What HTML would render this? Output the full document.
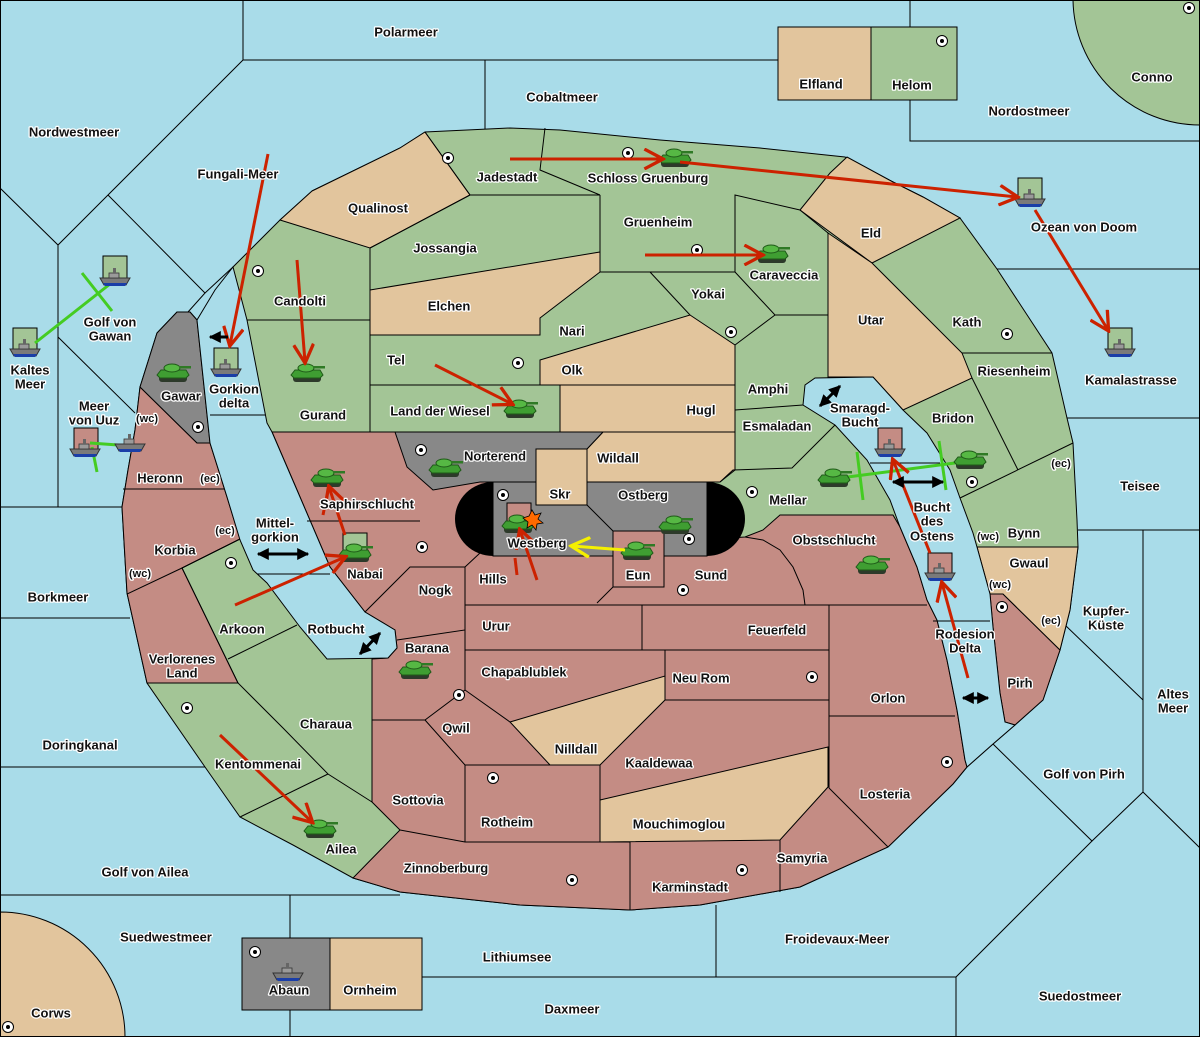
<!DOCTYPE html>
<html><head><meta charset="utf-8"><style>
html,body{margin:0;padding:0;background:#a9dce9;}
svg{display:block;}
text{font-family:"Liberation Sans",sans-serif;font-weight:bold;font-size:13px;fill:#111;stroke:#fff;stroke-width:2.5px;paint-order:stroke;stroke-linejoin:round;text-anchor:middle;dominant-baseline:central;}
text.s{font-size:11px;}
</style></head><body>
<svg width="1200" height="1037" viewBox="0 0 1200 1037" xmlns="http://www.w3.org/2000/svg">
<defs>
<g id="tank">
<rect x="-14" y="2" width="28" height="7" rx="3" fill="#2d3a2a"/>
<polygon points="-16,2 -12,-3 13,-3 16,2 13,5 -13,5" fill="#3f9e32" stroke="#1f5a18" stroke-width="1"/>
<ellipse cx="-1" cy="-5" rx="8" ry="4" fill="#56b844" stroke="#1f5a18" stroke-width="1"/>
<rect x="6" y="-7" width="12" height="2.5" fill="#2f7a25"/>
</g>
<g id="ship">
<polygon points="-15,1 15,1 11,8 -11,8" fill="#7a7a7a" stroke="#333" stroke-width="1"/>
<polygon points="-12,6 12,6 10,9 -10,9" fill="#1a3ea8"/>
<rect x="-6" y="-4" width="10" height="5" fill="#9a9a9a" stroke="#333" stroke-width="0.8"/>
<rect x="-2" y="-9" width="3" height="5" fill="#666"/>
</g>
<g id="sc"><circle r="5.5" fill="#fff" stroke="#000" stroke-width="1"/><circle r="2" fill="#000"/></g>
<marker id="rh" viewBox="0 0 20 20" refX="17" refY="10" markerWidth="22" markerHeight="22" markerUnits="userSpaceOnUse" orient="auto"><path d="M1,1 L18,10 L1,19" fill="none" stroke="#cc2200" stroke-width="3"/></marker>
<marker id="yh" viewBox="0 0 20 20" refX="17" refY="10" markerWidth="22" markerHeight="22" markerUnits="userSpaceOnUse" orient="auto"><path d="M1,1 L18,10 L1,19" fill="none" stroke="#f5f000" stroke-width="3"/></marker>
<marker id="bh" viewBox="0 0 10 10" refX="9" refY="5" markerWidth="12" markerHeight="12" markerUnits="userSpaceOnUse" orient="auto"><path d="M0,0 L10,5 L0,10 Z" fill="#000"/></marker>
<marker id="bt" viewBox="0 0 10 10" refX="1" refY="5" markerWidth="12" markerHeight="12" markerUnits="userSpaceOnUse" orient="auto"><path d="M10,0 L0,5 L10,10 Z" fill="#000"/></marker>
</defs>

<rect width="1200" height="1037" fill="#a9dce9"/>

<path d="M1073,0 A127,127 0 0 0 1200,125 L1200,0 Z" fill="#a3c596" stroke="#000"/>
<path d="M0,912 A125,125 0 0 1 125,1037 L0,1037 Z" fill="#e2c59d" stroke="#000"/>
<rect x="778" y="27" width="93" height="73" fill="#e2c59d" stroke="#000"/>
<rect x="871" y="27" width="86" height="73" fill="#a3c596" stroke="#000"/>
<rect x="242" y="938" width="88" height="72" fill="#888" stroke="#000"/>
<rect x="330" y="938" width="92" height="72" fill="#e2c59d" stroke="#000"/>

<g stroke="#000" stroke-width="1" fill="none">
<polyline points="243,0 243,60 778,60"/>
<polyline points="485,60 485,130"/>
<polyline points="910,0 910,27"/><polyline points="910,100 910,141 1200,141"/>
<polyline points="243,60 108,195 58,245 0,188"/>
<polyline points="58,245 58,507"/>
<polyline points="108,195 205,293 188,312"/><polyline points="205,293 233,267"/>
<polyline points="58,337 135,413"/>
<polyline points="0,507 122,507"/>
<polyline points="0,618 130,618"/>
<polyline points="0,767 205,767"/>
<polyline points="0,895 400,895"/>
<polyline points="290,895 290,938"/><polyline points="290,1010 290,1037"/>
<polyline points="997,269 1200,269"/>
<polyline points="1067,418 1200,418"/>
<polyline points="1078,530 1200,530"/>
<polyline points="1143,530 1143,792 1200,848"/>
<polyline points="1143,792 1092,841 993,744"/>
<polyline points="1065,625 1143,700"/>
<polyline points="1092,841 956,977 956,1037"/>
<polyline points="422,977 956,977"/>
<polyline points="716,905 716,977"/>
</g>

<polygon fill="#a3c596" stroke="#000" points="312,191 400,148 425,132 510,128 560,130 660,140 760,148 845,157 893,182 923,197 960,218 997,269 1052,353 1067,418 1073,443 1077,520 1078,547 1070,610 1060,650 1043,700 1015,725 993,744 967,767 953,784 888,847 800,887 700,905 630,910 520,905 400,892 353,878 293,845 240,817 205,767 147,683 127,593 122,507 128,470 135,430 140,387 157,333 177,312 190,312 197,320 233,267 280,220"/>

<g fill="#c48c84" stroke="#000">
<polygon points="272,432 430,432 430,482 700,482 700,540 745,537 763,530 780,515 893,515 900,527 917,567 927,600 937,620 947,660 957,710 965,760 967,767 953,784 888,847 800,887 700,905 630,910 520,905 400,892 353,878 400,830 372,802 372,659 388,658 397,648 395,630 365,612 330,567 297,490"/>
<polygon points="140,387 197,443 210,443 227,497 240,539 182,568 238,683 147,683 127,593 122,507 128,470 135,430"/>
<polygon points="990,594 1003,594 1060,650 1043,700 1015,725 1005,722 1000,693 993,627"/>
</g>

<g fill="#e2c59d" stroke="#000">
<polygon points="312,191 400,148 425,132 470,195 370,248 280,220"/>
<polygon points="370,290 600,252 600,272 540,318 540,335 370,335"/>
<polygon points="540,360 690,315 735,345 735,385 540,385"/>
<polygon points="560,385 735,385 735,432 560,432"/>
<polygon points="603,432 735,432 735,470 720,482 587,482 587,449"/>
<polygon points="800,210 830,173 847,157 893,182 923,197 960,218 872,263"/>
<polygon points="828,233 872,263 917,308 962,353 972,378 903,410 873,377 828,377"/>
<polygon points="977,547 1078,547 1070,610 1060,650 1003,594 990,594"/>
<polygon points="510,722 665,676 665,700 600,765 550,765"/>
<polygon points="600,800 828,747 828,787 780,840 600,842"/>
</g>

<polygon fill="#888" stroke="#000" points="140,387 157,333 177,312 190,312 197,320 210,443 197,443"/>
<polygon fill="#888" stroke="#000" points="395,432 603,432 587,449 536,449 536,482 480,482 433,490 407,467"/>
<path d="M493,482 L707,482 A38,37 0 0 1 707,556 L493,556 A38,37 0 0 1 493,482 Z" fill="#000"/>
<rect x="493" y="482" width="214" height="74" fill="#888" stroke="#000"/>
<rect x="536" y="449" width="51" height="56" fill="#e2c59d" stroke="#000"/>
<rect x="507" y="503" width="24" height="18" fill="#c48c84" stroke="#000"/>
<rect x="613" y="531" width="51" height="56" fill="#c48c84" stroke="#000"/>
<line x1="587" y1="505" x2="613" y2="531" stroke="#000"/>

<polygon fill="#a9dce9" stroke="#000" points="197,320 215,290 233,267 247,320 267,423 272,432 297,490 330,567 365,612 395,630 397,648 388,658 327,659 300,627 267,583 253,570 240,540 227,497 210,443"/>
<polygon fill="#a9dce9" stroke="#000" points="803,405 805,385 815,378 873,377 903,410 927,433 950,470 960,498 973,533 977,547 990,594 993,627 1000,693 1005,722 1015,725 993,744 967,767 965,760 957,710 947,660 937,620 927,600 917,567 900,527 890,500 867,460 835,425"/>
<g stroke="#000" fill="none">
<polyline points="210,415 265,415"/><polyline points="257,574 330,574"/><polyline points="870,463 940,463"/><polyline points="933,621 990,621"/>
</g>

<g stroke="#000" stroke-width="1" fill="none">
<polyline points="425,132 470,195 600,195"/>
<polyline points="545,128 540,170 600,195"/>
<polyline points="370,248 470,195"/>
<polyline points="370,248 370,432"/>
<polyline points="247,320 370,320"/>
<polyline points="600,195 600,272 735,272 735,195 800,210"/>
<polyline points="800,210 828,233 828,377"/>
<polyline points="735,272 775,315 828,315"/>
<polyline points="650,272 690,315"/>
<polyline points="735,345 775,315"/>
<polyline points="735,345 735,470"/>
<polyline points="735,410 803,405"/>
<polyline points="720,482 733,470 792,468 835,425"/>
<polyline points="370,385 560,385"/>
<polyline points="962,353 1052,353"/>
<polyline points="972,378 1018,470"/>
<polyline points="960,498 1073,443"/>
<polyline points="123,489 224,489"/>
<polyline points="127,594 182,568 240,539"/>
<polyline points="182,568 238,683 283,728 328,774 372,802"/>
<polyline points="228,659 297,625"/>
<polyline points="240,817 328,774"/>
<polyline points="372,659 372,802"/>
<polyline points="307,521 420,521"/>
<polyline points="365,612 410,567 465,567 480,553"/>
<polyline points="465,567 465,605"/>
<polyline points="397,640 465,630 465,605 829,605"/>
<polyline points="597,603 613,587"/>
<polyline points="642,605 642,650"/>
<polyline points="465,630 465,650 829,650"/>
<polyline points="465,650 465,690 425,720 372,720"/>
<polyline points="465,690 510,722"/>
<polyline points="425,720 465,765 550,765"/>
<polyline points="465,765 465,842"/>
<polyline points="600,765 600,842"/>
<polyline points="400,830 465,842 630,842 630,910"/>
<polyline points="665,650 665,700 829,700"/>
<polyline points="829,605 829,788"/>
<polyline points="805,605 927,605"/>
<polyline points="745,537 763,540 780,550 793,567 803,590 805,605"/>
<polyline points="829,716 955,716"/>
<polyline points="780,840 780,892"/>
<polyline points="829,788 888,847"/>
</g>

<g>
<use href="#sc" x="448" y="158"/><use href="#sc" x="628" y="153"/><use href="#sc" x="942" y="41"/><use href="#sc" x="1189" y="8"/>
<use href="#sc" x="258" y="271"/><use href="#sc" x="697" y="250"/><use href="#sc" x="518" y="363"/><use href="#sc" x="731" y="332"/>
<use href="#sc" x="1007" y="334"/><use href="#sc" x="198" y="427"/><use href="#sc" x="421" y="450"/><use href="#sc" x="503" y="495"/>
<use href="#sc" x="689" y="539"/><use href="#sc" x="752" y="492"/><use href="#sc" x="972" y="482"/><use href="#sc" x="422" y="547"/>
<use href="#sc" x="231" y="563"/><use href="#sc" x="683" y="590"/><use href="#sc" x="1002" y="607"/><use href="#sc" x="459" y="695"/>
<use href="#sc" x="812" y="677"/><use href="#sc" x="187" y="708"/><use href="#sc" x="493" y="778"/><use href="#sc" x="947" y="762"/>
<use href="#sc" x="572" y="880"/><use href="#sc" x="742" y="870"/><use href="#sc" x="255" y="952"/><use href="#sc" x="8" y="1027"/>
</g>

<g stroke="#000">
<rect x="1018" y="178" width="24" height="22" fill="#a3c596"/>
<rect x="1108" y="328" width="24" height="22" fill="#a3c596"/>
<rect x="103" y="256" width="24" height="22" fill="#a3c596"/>
<rect x="13" y="328" width="24" height="22" fill="#a3c596"/>
<rect x="214" y="348" width="24" height="22" fill="#a3c596"/>
<rect x="74" y="428" width="24" height="22" fill="#c48c84"/>
<rect x="878" y="428" width="24" height="22" fill="#c48c84"/>
<rect x="928" y="553" width="24" height="22" fill="#c48c84"/>
<rect x="343" y="533" width="24" height="22" fill="#a3c596"/>
</g>

<g stroke="#44cc22" stroke-width="3" fill="none">
<line x1="35" y1="343" x2="110" y2="284"/><line x1="82" y1="273" x2="112" y2="311"/>
<line x1="90" y1="443" x2="118" y2="445"/><line x1="92" y1="447" x2="97" y2="472"/>
<line x1="840" y1="478" x2="970" y2="461"/>
<line x1="857" y1="452" x2="863" y2="500"/><line x1="939" y1="441" x2="946" y2="490"/>
</g>

<use href="#tank" x="675" y="158"/><use href="#tank" x="772" y="254"/><use href="#tank" x="307" y="373"/>
<use href="#tank" x="520" y="409"/><use href="#tank" x="173" y="373"/><use href="#tank" x="445" y="468"/>
<use href="#tank" x="327" y="478"/><use href="#tank" x="355" y="553"/><use href="#tank" x="518" y="524"/>
<use href="#tank" x="637" y="551"/><use href="#tank" x="675" y="525"/><use href="#tank" x="834" y="478"/>
<use href="#tank" x="970" y="460"/><use href="#tank" x="872" y="565"/><use href="#tank" x="415" y="670"/>
<use href="#tank" x="320" y="829"/>
<use href="#ship" x="1030" y="198"/><use href="#ship" x="1120" y="348"/><use href="#ship" x="115" y="277"/>
<use href="#ship" x="25" y="348"/><use href="#ship" x="226" y="368"/><use href="#ship" x="85" y="448"/>
<use href="#ship" x="130" y="443"/><use href="#ship" x="890" y="448"/><use href="#ship" x="940" y="572"/>
<use href="#ship" x="288" y="972"/>
<polygon points="532,510 535,515 541,513 538,519 543,523 537,524 536,530 532,525 527,528 528,522 523,518 529,516" fill="#ff6a00" stroke="#000" stroke-width="0.8"/>

<g stroke="#cc2200" stroke-width="3" fill="none" marker-end="url(#rh)">
<line x1="510" y1="159" x2="662" y2="159"/>
<line x1="680" y1="162" x2="1017" y2="197"/>
<line x1="1035" y1="210" x2="1108" y2="330"/>
<line x1="268" y1="154" x2="230" y2="345"/>
<line x1="297" y1="260" x2="305" y2="362"/>
<line x1="435" y1="365" x2="512" y2="404"/>
<line x1="645" y1="255" x2="762" y2="255"/>
<line x1="220" y1="735" x2="312" y2="822"/>
<line x1="235" y1="605" x2="345" y2="557"/>
<line x1="345" y1="535" x2="329" y2="487"/>
<line x1="537" y1="580" x2="520" y2="530"/>
<line x1="968" y1="678" x2="942" y2="583"/>
<line x1="930" y1="553" x2="893" y2="460"/>
</g>
<line x1="323" y1="515" x2="325" y2="505" stroke="#cc2200" stroke-width="3"/>
<line x1="515" y1="558" x2="517" y2="575" stroke="#cc2200" stroke-width="3"/>
<line x1="625" y1="550" x2="572" y2="546" stroke="#f5f000" stroke-width="3" marker-end="url(#yh)"/>

<g stroke="#000" stroke-width="3" fill="none">
<line x1="228" y1="337" x2="210" y2="337" marker-end="url(#bh)"/>
<line x1="258" y1="554" x2="308" y2="554" marker-end="url(#bh)" marker-start="url(#bt)"/>
<line x1="360" y1="654" x2="380" y2="633" marker-end="url(#bh)" marker-start="url(#bt)"/>
<line x1="820" y1="406" x2="840" y2="386" marker-end="url(#bh)" marker-start="url(#bt)"/>
<line x1="893" y1="482" x2="943" y2="482" marker-end="url(#bh)" marker-start="url(#bt)"/>
<line x1="963" y1="698" x2="988" y2="698" marker-end="url(#bh)" marker-start="url(#bt)"/>
</g>

<text x="406" y="32">Polarmeer</text>
<text x="562" y="97">Cobaltmeer</text>
<text x="821" y="84">Elfland</text>
<text x="912" y="85">Helom</text>
<text x="1152" y="77">Conno</text>
<text x="1029" y="111">Nordostmeer</text>
<text x="74" y="132">Nordwestmeer</text>
<text x="238" y="174">Fungali-Meer</text>
<text x="507" y="177">Jadestadt</text>
<text x="648" y="178">Schloss Gruenburg</text>
<text x="378" y="208">Qualinost</text>
<text x="871" y="233">Eld</text>
<text x="1084" y="227">Ozean von Doom</text>
<text x="445" y="248">Jossangia</text>
<text x="658" y="222">Gruenheim</text>
<text x="784" y="275">Caraveccia</text>
<text x="110" y="322">Golf von</text>
<text x="110" y="336">Gawan</text>
<text x="300" y="301">Candolti</text>
<text x="708" y="294">Yokai</text>
<text x="871" y="320">Utar</text>
<text x="967" y="322">Kath</text>
<text x="449" y="306">Elchen</text>
<text x="572" y="331">Nari</text>
<text x="30" y="370">Kaltes</text>
<text x="30" y="384">Meer</text>
<text x="396" y="360">Tel</text>
<text x="572" y="370">Olk</text>
<text x="1014" y="371">Riesenheim</text>
<text x="1131" y="380">Kamalastrasse</text>
<text x="234" y="389">Gorkion</text>
<text x="234" y="403">delta</text>
<text x="181" y="396">Gawar</text>
<text x="768" y="389">Amphi</text>
<text x="860" y="408">Smaragd-</text>
<text x="860" y="422">Bucht</text>
<text x="701" y="410">Hugl</text>
<text x="440" y="411">Land der Wiesel</text>
<text x="323" y="415">Gurand</text>
<text x="94" y="406">Meer</text>
<text x="94" y="420">von Uuz</text>
<text class="s" x="147" y="419">(wc)</text>
<text x="953" y="418">Bridon</text>
<text x="777" y="426">Esmaladan</text>
<text x="160" y="478">Heronn</text>
<text class="s" x="210" y="479">(ec)</text>
<text x="495" y="456">Norterend</text>
<text x="618" y="458">Wildall</text>
<text class="s" x="1061" y="464">(ec)</text>
<text x="1140" y="486">Teisee</text>
<text x="560" y="494">Skr</text>
<text x="643" y="495">Ostberg</text>
<text x="788" y="500">Mellar</text>
<text x="367" y="504">Saphirschlucht</text>
<text x="932" y="507">Bucht</text>
<text x="932" y="521">des</text>
<text x="932" y="536">Ostens</text>
<text x="275" y="523">Mittel-</text>
<text x="275" y="537">gorkion</text>
<text class="s" x="225" y="531">(ec)</text>
<text x="1024" y="533">Bynn</text>
<text class="s" x="988" y="537">(wc)</text>
<text x="834" y="540">Obstschlucht</text>
<text x="537" y="543">Westberg</text>
<text x="175" y="550">Korbia</text>
<text x="1029" y="563">Gwaul</text>
<text x="365" y="574">Nabai</text>
<text x="638" y="575">Eun</text>
<text x="711" y="575">Sund</text>
<text class="s" x="140" y="574">(wc)</text>
<text x="493" y="579">Hills</text>
<text class="s" x="1000" y="585">(wc)</text>
<text x="435" y="590">Nogk</text>
<text x="58" y="597">Borkmeer</text>
<text x="1106" y="611">Kupfer-</text>
<text x="1106" y="625">Küste</text>
<text x="496" y="626">Urur</text>
<text x="777" y="630">Feuerfeld</text>
<text x="242" y="629">Arkoon</text>
<text x="336" y="629">Rotbucht</text>
<text class="s" x="1051" y="621">(ec)</text>
<text x="965" y="634">Rodesion</text>
<text x="965" y="648">Delta</text>
<text x="427" y="648">Barana</text>
<text x="182" y="659">Verlorenes</text>
<text x="182" y="673">Land</text>
<text x="524" y="672">Chapablublek</text>
<text x="701" y="678">Neu Rom</text>
<text x="1020" y="683">Pirh</text>
<text x="1173" y="694">Altes</text>
<text x="1173" y="708">Meer</text>
<text x="888" y="698">Orlon</text>
<text x="326" y="724">Charaua</text>
<text x="456" y="728">Qwil</text>
<text x="80" y="745">Doringkanal</text>
<text x="576" y="749">Nilldall</text>
<text x="258" y="764">Kentommenai</text>
<text x="659" y="763">Kaaldewaa</text>
<text x="1084" y="774">Golf von Pirh</text>
<text x="885" y="794">Losteria</text>
<text x="418" y="800">Sottovia</text>
<text x="507" y="822">Rotheim</text>
<text x="679" y="824">Mouchimoglou</text>
<text x="341" y="849">Ailea</text>
<text x="802" y="858">Samyria</text>
<text x="446" y="868">Zinnoberburg</text>
<text x="145" y="872">Golf von Ailea</text>
<text x="690" y="887">Karminstadt</text>
<text x="166" y="937">Suedwestmeer</text>
<text x="837" y="939">Froidevaux-Meer</text>
<text x="517" y="957">Lithiumsee</text>
<text x="289" y="990">Abaun</text>
<text x="370" y="990">Ornheim</text>
<text x="1080" y="996">Suedostmeer</text>
<text x="572" y="1009">Daxmeer</text>
<text x="51" y="1013">Corws</text>
<rect x="0.5" y="0.5" width="1199" height="1036" fill="none" stroke="#000"/>
</svg>
</body></html>
